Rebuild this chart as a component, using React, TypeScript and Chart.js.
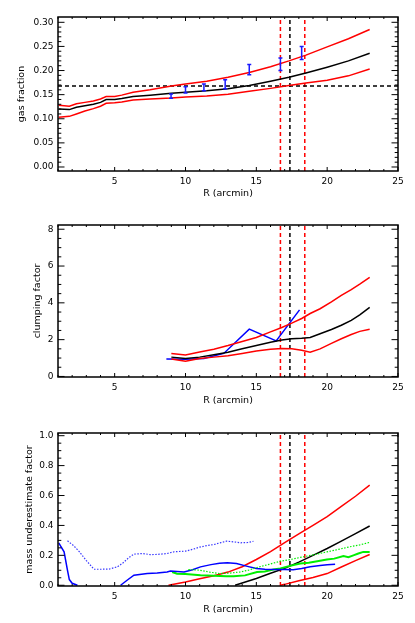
import React, { useEffect, useRef } from 'react';
import { Chart, registerables } from 'chart.js';
Chart.register(...registerables);

// ---------------- data ----------------
// R500 estimates (arcmin): lower, best, upper
const r500Lo = 16.7;
const r500Best = 17.37;
const r500Hi = 18.42;
const fgasCosmic = 0.168;

// Panel 1: gas fraction
const fgasR = [1.05, 1.8, 2.3, 2.9, 3.5, 4.0, 4.4, 5.0, 5.5, 6.3, 7.5, 9, 10, 11.5, 13, 14.5, 16, 17.3, 18.5, 20, 21.5, 23];
const fgasBest = [0.120, 0.119, 0.124, 0.127, 0.130, 0.134, 0.140, 0.140, 0.142, 0.146, 0.149, 0.153, 0.155, 0.158, 0.162, 0.169, 0.178, 0.186, 0.195, 0.207, 0.220, 0.236];
const fgasHi = [0.128, 0.126, 0.131, 0.134, 0.137, 0.141, 0.146, 0.146, 0.149, 0.155, 0.160, 0.168, 0.172, 0.178, 0.186, 0.196, 0.208, 0.220, 0.232, 0.249, 0.266, 0.285];
const fgasLo = [0.103, 0.105, 0.110, 0.116, 0.121, 0.126, 0.132, 0.133, 0.135, 0.139, 0.141, 0.143, 0.145, 0.147, 0.151, 0.157, 0.163, 0.169, 0.174, 0.180, 0.189, 0.203];
const fgasObsR = [8.98, 10.0, 11.3, 12.8, 14.5, 16.7, 18.2];
const fgasObs = [0.147, 0.160, 0.165, 0.1715, 0.202, 0.213, 0.2365];
const fgasObsErr = [0.0045, 0.0065, 0.007, 0.0095, 0.0105, 0.013, 0.0135];

// Panel 2: clumping factor
const clumpR = [9, 10, 11, 12, 13, 14, 15, 16, 16.8, 17.5, 18.2, 18.8, 19.5, 20.3, 21, 21.7, 22.3, 23];
const clumpBest = [1.05, 0.97, 1.05, 1.18, 1.32, 1.50, 1.68, 1.86, 1.98, 2.05, 2.08, 2.12, 2.32, 2.55, 2.78, 3.05, 3.35, 3.75];
const clumpHi = [1.25, 1.17, 1.33, 1.48, 1.68, 1.90, 2.12, 2.42, 2.66, 2.90, 3.15, 3.42, 3.68, 4.05, 4.40, 4.72, 5.02, 5.39];
const clumpLo = [0.95, 0.82, 0.98, 1.05, 1.12, 1.25, 1.38, 1.48, 1.52, 1.50, 1.42, 1.32, 1.50, 1.80, 2.05, 2.28, 2.45, 2.57];
const clumpObsR = [8.65, 10.0, 11.3, 12.7, 14.5, 16.4, 18.05];
const clumpObs = [0.95, 0.94, 0.98, 1.25, 2.57, 1.93, 3.62];

// Panel 3: mass underestimate factor
const massHiR = [8.8, 10, 11, 12, 13, 14, 15, 16, 17, 18, 19, 20, 21, 22, 23];
const massHi = [0.0, 0.022, 0.043, 0.064, 0.088, 0.124, 0.172, 0.225, 0.285, 0.343, 0.400, 0.459, 0.527, 0.595, 0.669];
const massBestR = [13.5, 14, 15, 16, 17, 18, 19, 20, 21, 22, 23];
const massBest = [0.0, 0.015, 0.045, 0.080, 0.113, 0.155, 0.200, 0.246, 0.295, 0.345, 0.396];
const massLoR = [16.7, 17, 18, 19, 20, 21, 22, 23];
const massLo = [0.0, 0.006, 0.030, 0.052, 0.078, 0.122, 0.165, 0.206];
const blueSolidR = [1.05, 1.43, 1.67, 1.8, 2.0, 2.37, 3.9, 5.42, 5.9, 6.36, 7.3, 8.0, 8.7, 8.94, 9.4, 9.9, 10.5, 11.06, 11.8, 12.4, 12.96, 13.6, 14.3, 15.0, 15.6, 16.3, 17.0, 17.6, 18.2, 18.8, 19.5, 20.0, 20.56];
const blueSolid = [0.284, 0.224, 0.10, 0.038, 0.013, 0.0, null, 0.0, 0.035, 0.067, 0.078, 0.082, 0.089, 0.095, 0.092, 0.089, 0.104, 0.123, 0.138, 0.147, 0.150, 0.145, 0.128, 0.112, 0.107, 0.105, 0.106, 0.104, 0.112, 0.124, 0.132, 0.137, 0.141];
const blueDotR = [1.67, 2.1, 2.5, 3.0, 3.54, 4.0, 4.6, 5.19, 5.6, 6.0, 6.36, 7.0, 7.5, 8.0, 8.7, 9.2, 10.0, 10.5, 11.0, 11.5, 12.0, 12.5, 12.9, 13.4, 13.9, 14.4, 14.8];
const blueDot = [0.297, 0.265, 0.225, 0.165, 0.107, 0.107, 0.108, 0.123, 0.150, 0.185, 0.208, 0.212, 0.205, 0.206, 0.212, 0.224, 0.228, 0.240, 0.255, 0.265, 0.272, 0.285, 0.295, 0.290, 0.284, 0.286, 0.294];
const greenSolidR = [9.06, 9.4, 10.0, 11.06, 12.0, 12.9, 13.4, 14.2, 15.05, 15.6, 16.2, 16.7, 17.3, 18.1, 18.7, 19.3, 19.98, 20.5, 21.15, 21.5, 21.85, 22.2, 22.55, 23.0];
const greenSolid = [0.089, 0.077, 0.075, 0.067, 0.064, 0.060, 0.060, 0.066, 0.089, 0.092, 0.105, 0.112, 0.128, 0.146, 0.150, 0.160, 0.172, 0.178, 0.195, 0.188, 0.200, 0.212, 0.223, 0.223];
const greenDotR = [10.2, 10.7, 11.06, 11.8, 12.46, 13.2, 13.87, 14.5, 15.05, 15.9, 16.7, 17.4, 18.1, 19.0, 19.98, 20.8, 21.6, 22.3, 23.0];
const greenDot = [0.105, 0.103, 0.100, 0.086, 0.078, 0.082, 0.089, 0.102, 0.119, 0.140, 0.161, 0.172, 0.186, 0.203, 0.223, 0.240, 0.257, 0.270, 0.287];

// axes / tick labels
const xRange = [1, 25];
const xTicks = [5, 10, 15, 20, 25];
const fgasTicks = [0, 0.05, 0.1, 0.15, 0.2, 0.25, 0.3];
const clumpTicks = [0, 2, 4, 6, 8];
const massTicks = [0, 0.2, 0.4, 0.6, 0.8, 1.0];

// ---------------- styling helpers ----------------
const RED = '#ff0000';
const BLACK = '#000000';
const BLUE = '#0000ff';
const LBLUE = '#3a3aff';
const GREEN = '#00ee00';
const FONT = 'DejaVu Sans';

function series(xs: number[], ys: (number | null)[], color: string, width = 1.5, dash: number[] = []) {
  return {
    type: 'line',
    data: xs.map((x, i) => ({ x, y: ys[i] })),
    borderColor: color,
    backgroundColor: color,
    borderWidth: width,
    borderDash: dash,
    pointRadius: 0,
    tension: 0,
    fill: false,
    spanGaps: false,
    clip: 0,
  };
}

function vline(x: number, color: string, ymin: number, ymax: number) {
  return series([x, x], [ymin, ymax], color, 1.5, [4, 3]);
}

function range(a: number, b: number, step: number) {
  const out: number[] = [];
  for (let v = a; v <= b + step * 1e-6; v += step) out.push(Math.round(v * 1e6) / 1e6);
  return out;
}

type PanelSpec = {
  height: number;
  plotTop: number;
  plotBottom: number;
  yMin: number;
  yMax: number;
  yTicks: number[];
  yDecimals: number;
  yMinorStep: number;
  yTitle: string;
  yTitlePad: number;
  xTitlePad: number;
  datasets: any[];
  errorBars?: { x: number[]; y: number[]; err: number[] };
};

const PLOT_LEFT = 58;
const PLOT_RIGHT = 398;
const WIDTH = 415;

function makeConfig(p: PanelSpec) {
  const xMinor = range(xRange[0], xRange[1], 1);
  const yMinor = range(p.yTicks[0], p.yTicks[p.yTicks.length - 1], p.yMinorStep);
  const framePlugin = {
    id: 'frameTicks',
    afterDatasetsDraw(chart: any) {
      const { ctx, chartArea: a, scales } = chart;
      const xs = scales.x;
      const ys = scales.y;
      ctx.save();
      // error bars
      if (p.errorBars) {
        const eb = p.errorBars;
        ctx.strokeStyle = '#1a1aff';
        ctx.lineWidth = 1.5;
        ctx.beginPath();
        eb.x.forEach((xv, i) => {
          const px = xs.getPixelForValue(xv);
          const lo = ys.getPixelForValue(eb.y[i] - eb.err[i]);
          const hi = ys.getPixelForValue(eb.y[i] + eb.err[i]);
          ctx.moveTo(px, lo); ctx.lineTo(px, hi);
          ctx.moveTo(px - 2, lo); ctx.lineTo(px + 2, lo);
          ctx.moveTo(px - 2, hi); ctx.lineTo(px + 2, hi);
        });
        ctx.stroke();
      }
      ctx.strokeStyle = '#000';
      ctx.lineWidth = 1;
      ctx.beginPath();
      const xMajLen = 4, xMinLen = 2, yMajLen = 6.5, yMinLen = 3.3;
      xMinor.forEach((v) => {
        const len = xTicks.includes(v) ? xMajLen : xMinLen;
        const px = xs.getPixelForValue(v);
        ctx.moveTo(px, a.bottom); ctx.lineTo(px, a.bottom - len);
        ctx.moveTo(px, a.top); ctx.lineTo(px, a.top + len);
      });
      yMinor.forEach((v) => {
        const isMaj = p.yTicks.some((t) => Math.abs(t - v) < 1e-6);
        const len = isMaj ? yMajLen : yMinLen;
        const py = ys.getPixelForValue(v);
        ctx.moveTo(a.left, py); ctx.lineTo(a.left + len, py);
        ctx.moveTo(a.right, py); ctx.lineTo(a.right - len, py);
      });
      ctx.stroke();
      ctx.lineWidth = 1.5;
      ctx.strokeRect(a.left, a.top, a.right - a.left, a.bottom - a.top);
      ctx.restore();
    },
  };

  return {
    type: 'line',
    data: { datasets: p.datasets },
    plugins: [framePlugin],
    options: {
      animation: false,
      responsive: false,
      maintainAspectRatio: false,
      devicePixelRatio: 1,
      layout: { padding: { left: 0, right: WIDTH - PLOT_RIGHT, top: p.plotTop, bottom: 0 } },
      plugins: { legend: { display: false }, tooltip: { enabled: false } },
      scales: {
        x: {
          type: 'linear',
          min: xRange[0],
          max: xRange[1],
          grid: { display: false, drawTicks: false },
          border: { display: false },
          afterBuildTicks: (s: any) => { s.ticks = xTicks.map((v) => ({ value: v })); },
          afterFit: (s: any) => { s.height = p.height - p.plotBottom; },
          ticks: {
            autoSkip: false,
            maxRotation: 0,
            padding: 5.5,
            color: '#000',
            font: { family: FONT, size: 9 },
            callback: (v: any) => String(v),
          },
          title: {
            display: true,
            text: 'R (arcmin)',
            color: '#000',
            font: { family: FONT, size: 9.5 },
            padding: { top: 0, bottom: p.xTitlePad },
          },
        },
        y: {
          type: 'linear',
          min: p.yMin,
          max: p.yMax,
          grid: { display: false, drawTicks: false },
          border: { display: false },
          afterBuildTicks: (s: any) => { s.ticks = p.yTicks.map((v) => ({ value: v })); },
          afterFit: (s: any) => { s.width = PLOT_LEFT; },
          ticks: {
            autoSkip: false,
            padding: 4.5,
            color: '#000',
            font: { family: FONT, size: 9 },
            callback: (v: any) => Number(v).toFixed(p.yDecimals),
          },
          title: {
            display: true,
            text: p.yTitle,
            color: '#000',
            font: { family: FONT, size: 9.5 },
            padding: { top: p.yTitlePad, bottom: 0 },
          },
        },
      },
    },
  };
}

// ---------------- panels ----------------
const P1_MIN = -0.0083, P1_MAX = 0.311;
const P2_MIN = -0.03, P2_MAX = 8.23;
const P3_MIN = -0.005, P3_MAX = 1.018;

const panel1: PanelSpec = {
  height: 205, plotTop: 17, plotBottom: 171,
  yMin: P1_MIN, yMax: P1_MAX, yTicks: fgasTicks, yDecimals: 2, yMinorStep: 0.01,
  yTitle: 'gas fraction', yTitlePad: 16.3, xTitlePad: 5.3,
  datasets: [
    series(fgasR, fgasHi, RED),
    series(fgasR, fgasLo, RED),
    series(fgasR, fgasBest, BLACK),
    series(xRange, [fgasCosmic, fgasCosmic], BLACK, 1.5, [4, 3]),
    vline(r500Lo, RED, P1_MIN, P1_MAX),
    vline(r500Best, BLACK, P1_MIN, P1_MAX),
    vline(r500Hi, RED, P1_MIN, P1_MAX),
  ],
  errorBars: { x: fgasObsR, y: fgasObs, err: fgasObsErr },
};

const panel2: PanelSpec = {
  height: 210, plotTop: 20, plotBottom: 172,
  yMin: P2_MIN, yMax: P2_MAX, yTicks: clumpTicks, yDecimals: 0, yMinorStep: 0.5,
  yTitle: 'clumping factor', yTitlePad: 32.3, xTitlePad: 8.8,
  datasets: [
    series(clumpR, clumpHi, RED),
    series(clumpR, clumpLo, RED),
    series(clumpR, clumpBest, BLACK),
    series(clumpObsR, clumpObs, BLUE),
    vline(r500Lo, RED, P2_MIN, P2_MAX),
    vline(r500Best, BLACK, P2_MIN, P2_MAX),
    vline(r500Hi, RED, P2_MIN, P2_MAX),
  ],
};

const panel3: PanelSpec = {
  height: 208, plotTop: 18, plotBottom: 171,
  yMin: P3_MIN, yMax: P3_MAX, yTicks: massTicks, yDecimals: 1, yMinorStep: 0.05,
  yTitle: 'mass underestimate factor', yTitlePad: 23.8, xTitlePad: 7.3,
  datasets: [
    series(blueDotR, blueDot, LBLUE, 1.2, [1.5, 1.5]),
    series(greenDotR, greenDot, GREEN, 1.2, [1.5, 1.5]),
    series(blueSolidR, blueSolid, BLUE, 1.5),
    series(greenSolidR, greenSolid, GREEN, 2),
    series(massHiR, massHi, RED),
    series(massLoR, massLo, RED),
    series(massBestR, massBest, BLACK),
    vline(r500Lo, RED, P3_MIN, P3_MAX),
    vline(r500Best, BLACK, P3_MIN, P3_MAX),
    vline(r500Hi, RED, P3_MIN, P3_MAX),
  ],
};

function Panel({ spec, top }: { spec: PanelSpec; top: number }) {
  const ref = useRef<HTMLCanvasElement | null>(null);
  useEffect(() => {
    if (!ref.current) return;
    const chart = new Chart(ref.current, makeConfig(spec) as any);
    return () => chart.destroy();
  }, [spec]);
  return (
    <canvas
      ref={ref}
      width={WIDTH}
      height={spec.height}
      style={{ position: 'absolute', left: 0, top, width: WIDTH, height: spec.height }}
    />
  );
}

export default function App() {
  return (
    <div style={{ position: 'absolute', left: 0, top: 0, width: WIDTH, height: 623, background: '#fff' }}>
      <Panel spec={panel1} top={0} />
      <Panel spec={panel2} top={205} />
      <Panel spec={panel3} top={415} />
    </div>
  );
}
